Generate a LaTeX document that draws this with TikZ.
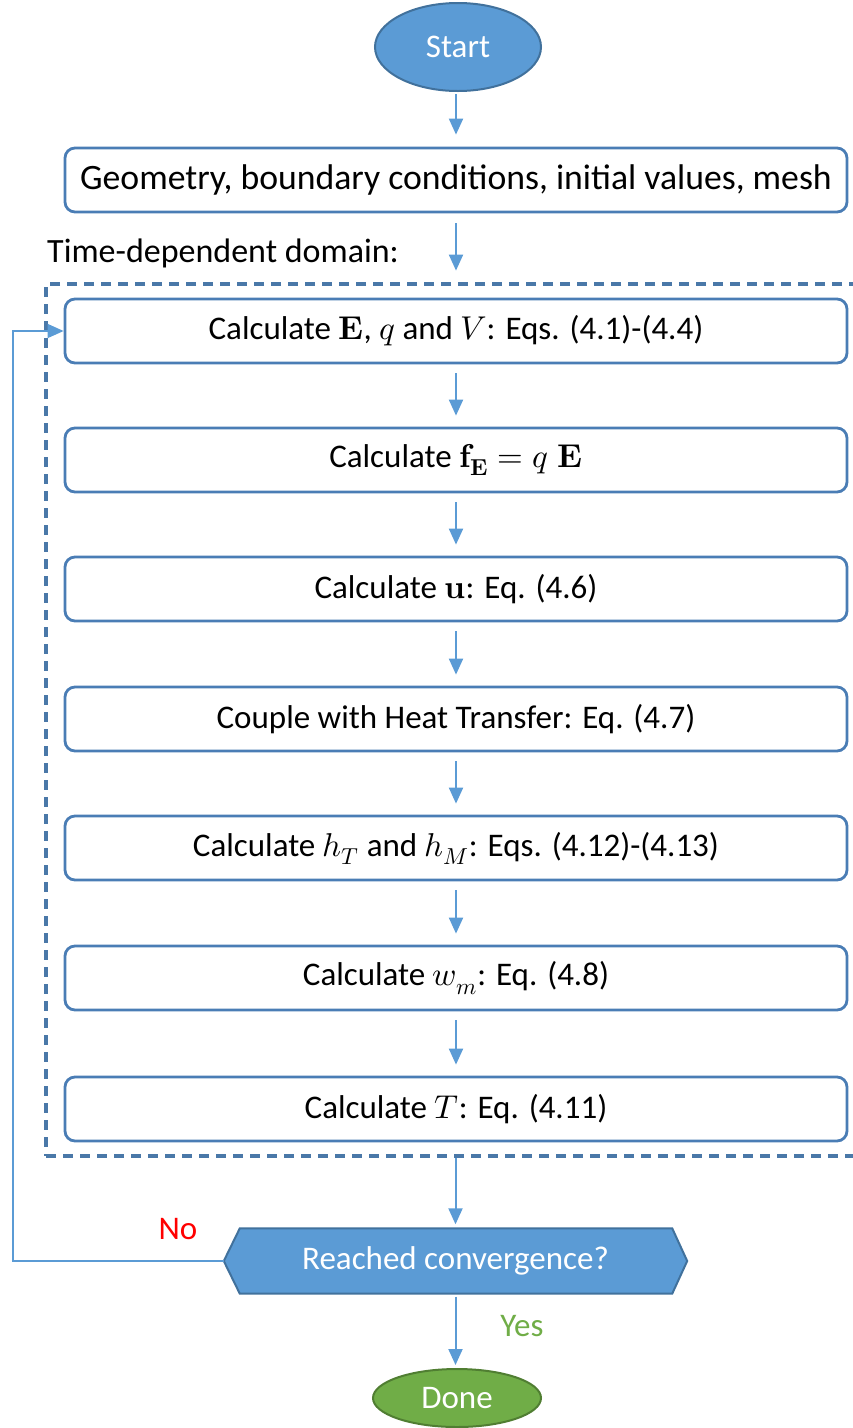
\documentclass[tikz,border=0pt]{standalone}
\usepackage{fontspec}
\usepackage{unicode-math}
\setmainfont{Carlito}
\setmathfont{Latin Modern Math}
\usetikzlibrary{arrows.meta,backgrounds,shapes.geometric}
\definecolor{boxc}{HTML}{4A7DB5}
\definecolor{dashc}{HTML}{4A78A8}
\definecolor{arrc}{HTML}{5B9BD5}
\definecolor{bluefill}{HTML}{5B9BD5}
\definecolor{blueedge}{HTML}{41719C}
\definecolor{greenfill}{HTML}{70AD47}
\definecolor{greenedge}{HTML}{507E32}
\definecolor{nored}{HTML}{FF0000}
\begin{document}
\begin{tikzpicture}[x=1pt,y=-1pt,
  stepbox/.style={draw=boxc, line width=2.8pt, rounded corners=10pt, minimum width=782pt, minimum height=64pt, inner sep=0pt, fill=white, font=\fontsize{33}{40}\selectfont},
  terminal/.style={ellipse, line width=2pt, inner sep=0pt, text=white, font=\fontsize{33}{40}\selectfont},
  flow/.style={draw=arrc, line width=2pt, -{Triangle[width=14pt,length=16pt]}},
  between/.style={flow, shorten <=9pt, shorten >=11pt},
  lbl/.style={inner sep=0pt, font=\fontsize{33}{40}\selectfont}]
\useasboundingbox (0,0) rectangle (853,1428);

% nodes
\node[terminal, fill=bluefill, draw=blueedge, minimum width=166pt, minimum height=88pt] (start) at (458,47) {Start};
\node[stepbox, font=\fontsize{35.7}{42}\selectfont] (geo) at (456,180) {Geometry, boundary conditions, initial values, mesh};
\node[lbl, anchor=base west, font=\fontsize{34}{40}\selectfont] (tdd) at (47,262) {Time-dependent domain:};
\node[draw=dashc, line width=3.2pt, dash pattern=on 10pt off 7pt, minimum width=812pt, minimum height=872pt, inner sep=0pt] (domain) at (452,720) {};

\node[stepbox] (s1) at (456,331) {Calculate $\symbf{E}$, $q$ and $V$: Eqs. (4.1)-(4.4)};
\node[stepbox] (s2) at (456,460) {Calculate $\symbf{f}_{\symbf{E}} = q\;\symbf{E}$};
\node[stepbox] (s3) at (456,589) {Calculate $\symbf{u}$: Eq. (4.6)};
\node[stepbox] (s4) at (456,719) {Couple with Heat Transfer: Eq. (4.7)};
\node[stepbox] (s5) at (456,848) {Calculate $h_T$ and $h_M$: Eqs. (4.12)-(4.13)};
\node[stepbox] (s6) at (456,978) {Calculate $w_m$: Eq. (4.8)};
\node[stepbox] (s7) at (456,1109) {Calculate $T$: Eq. (4.11)};

\node[lbl, text=white, minimum width=463pt, minimum height=65pt] (conv) at (455.5,1261) {Reached convergence?};
\begin{scope}[on background layer]
  \filldraw[fill=bluefill, draw=blueedge, line width=2pt, line join=miter]
    (conv.west) -- ([xshift=16pt]conv.north west) -- ([xshift=-15pt]conv.north east)
    -- (conv.east) -- ([xshift=-15pt]conv.south east) -- ([xshift=16pt]conv.south west) -- cycle;
\end{scope}

\node[terminal, fill=greenfill, draw=greenedge, minimum width=168pt, minimum height=58pt] (done) at (457,1398) {Done};

\node[lbl, text=nored] (no) at (178,1229) {No};
\node[lbl, text=greenfill] (yes) at (522,1326) {Yes};

\coordinate (fb) at (13,1261);

% connectors
\draw[flow, shorten <=2pt, shorten >=12pt] (start.south -| geo.north) -- (geo.north);
\draw[flow, shorten <=10pt, shorten >=27pt] (geo.south) -- (s1.north);
\draw[between] (s1) -- (s2);
\draw[between] (s2) -- (s3);
\draw[between] (s3) -- (s4);
\draw[between] (s4) -- (s5);
\draw[between] (s5) -- (s6);
\draw[between] (s6) -- (s7);
\draw[flow, shorten >=4pt] (domain.south -| conv.north) -- (conv.north);
\draw[flow, shorten <=3pt, shorten >=3pt] (conv.south) -- (conv.south |- done.north);
\draw[draw=arrc, line width=1.5pt, -{Triangle[width=14pt,length=16pt]}] (conv.west) -- (fb) |- (s1.west);
\end{tikzpicture}
\end{document}
